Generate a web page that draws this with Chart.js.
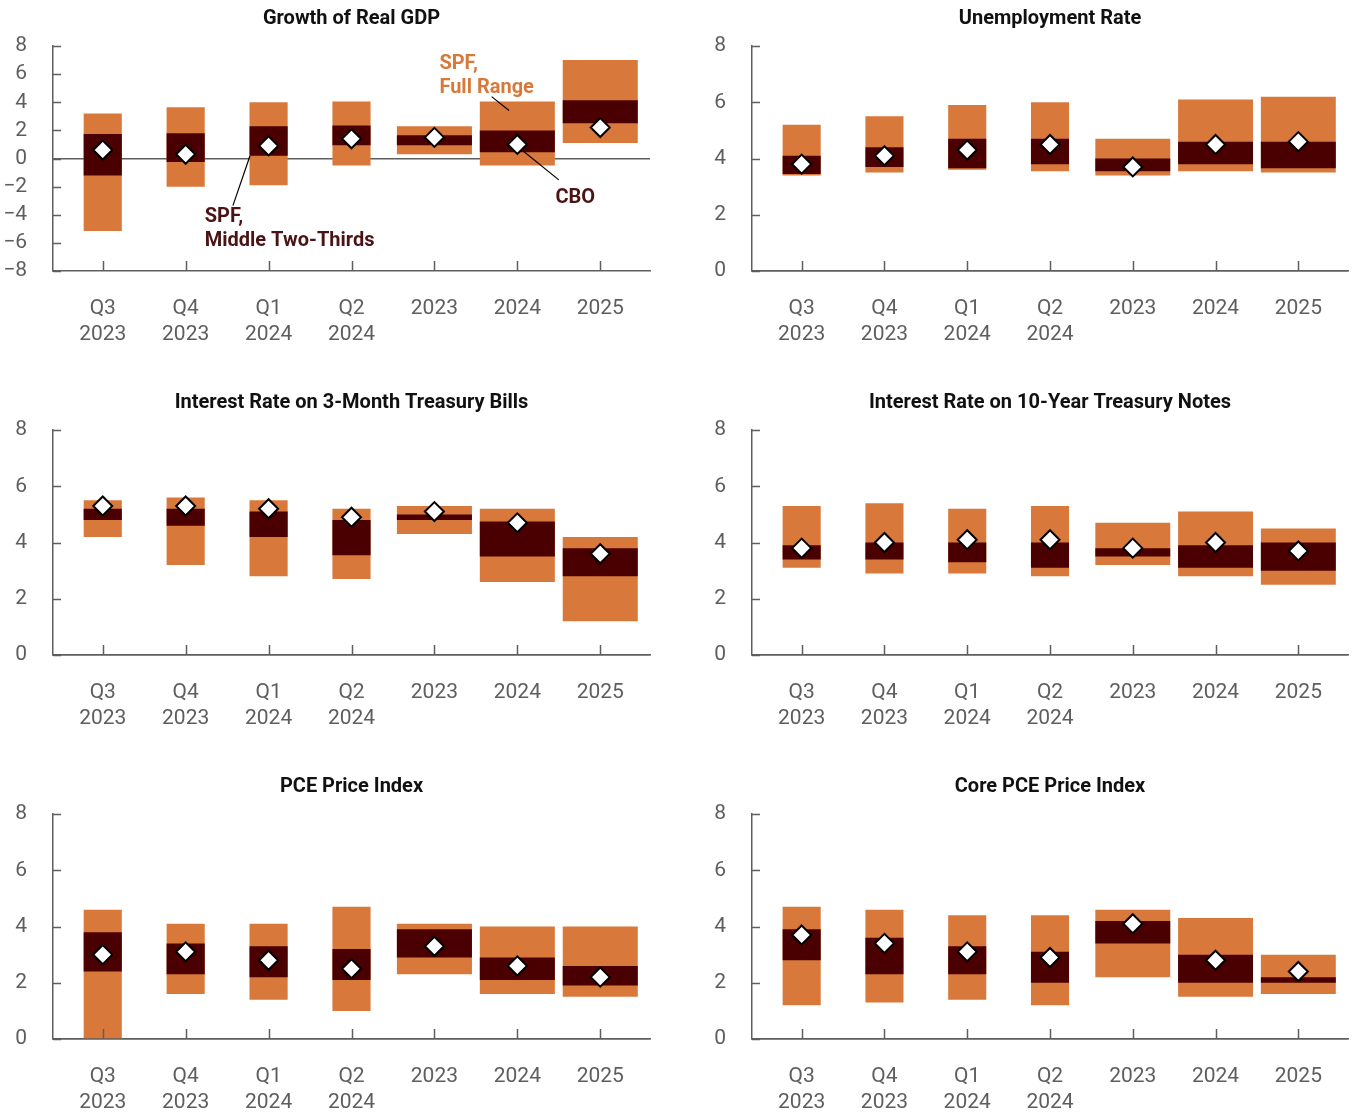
<!DOCTYPE html>
<html>
<head>
<meta charset="utf-8">
<script src="https://cdn.jsdelivr.net/npm/chart.js@4/dist/chart.umd.min.js"></script>
<style>
  body { margin: 0; background: #fff; overflow: hidden; }
  #wrap { position: relative; width: 1352px; height: 1113px; }
  canvas { position: absolute; }
</style>
</head>
<body>
<div id="wrap"></div>
<script>
// x labels (four quarters, then three calendar years)
const xLabels = [['Q3', '2023'], ['Q4', '2023'], ['Q1', '2024'], ['Q2', '2024'], '2023', '2024', '2025'];
const quarterIdx = [0, 1, 2, 3];
const yearIdx = [4, 5, 6];

// Growth of Real GDP
const gdpFull = [[-5.15, 3.2], [-2.0, 3.65], [-1.9, 4.0], [-0.5, 4.05], [0.3, 2.3], [-0.5, 4.05], [1.1, 7.0]];
const gdpMid = [[-1.2, 1.75], [-0.25, 1.8], [0.2, 2.3], [0.95, 2.35], [0.95, 1.65], [0.45, 2.0], [2.5, 4.15]];
const gdpCbo = [0.6, 0.3, 0.9, 1.4, 1.5, 1.0, 2.2];

// Unemployment Rate
const unempFull = [[3.4, 5.2], [3.5, 5.5], [3.6, 5.9], [3.55, 6.0], [3.4, 4.7], [3.55, 6.1], [3.5, 6.2]];
const unempMid = [[3.45, 4.1], [3.7, 4.4], [3.65, 4.7], [3.8, 4.7], [3.55, 4.0], [3.8, 4.6], [3.65, 4.6]];
const unempCbo = [3.8, 4.1, 4.3, 4.5, 3.7, 4.5, 4.6];

// Interest Rate on 3-Month Treasury Bills
const billFull = [[4.2, 5.5], [3.2, 5.6], [2.8, 5.5], [2.7, 5.2], [4.3, 5.3], [2.6, 5.2], [1.2, 4.2]];
const billMid = [[4.8, 5.2], [4.6, 5.2], [4.2, 5.1], [3.55, 4.8], [4.8, 5.0], [3.5, 4.75], [2.8, 3.8]];
const billCbo = [5.3, 5.3, 5.2, 4.9, 5.1, 4.7, 3.6];

// Interest Rate on 10-Year Treasury Notes
const noteFull = [[3.1, 5.3], [2.9, 5.4], [2.9, 5.2], [2.8, 5.3], [3.2, 4.7], [2.8, 5.1], [2.5, 4.5]];
const noteMid = [[3.4, 3.9], [3.4, 4.0], [3.3, 4.0], [3.1, 4.0], [3.5, 3.8], [3.1, 3.9], [3.0, 4.0]];
const noteCbo = [3.8, 4.0, 4.1, 4.1, 3.8, 4.0, 3.7];

// PCE Price Index
const pceFull = [[0, 4.6], [1.6, 4.1], [1.4, 4.1], [1.0, 4.7], [2.3, 4.1], [1.6, 4.0], [1.5, 4.0]];
const pceMid = [[2.4, 3.8], [2.3, 3.4], [2.2, 3.3], [2.1, 3.2], [2.9, 3.9], [2.1, 2.9], [1.9, 2.6]];
const pceCbo = [3.0, 3.1, 2.8, 2.5, 3.3, 2.6, 2.2];

// Core PCE Price Index
const coreFull = [[1.2, 4.7], [1.3, 4.6], [1.4, 4.4], [1.2, 4.4], [2.2, 4.6], [1.5, 4.3], [1.6, 3.0]];
const coreMid = [[2.8, 3.9], [2.3, 3.6], [2.3, 3.3], [2.0, 3.1], [3.4, 4.2], [2.0, 3.0], [2.0, 2.2]];
const coreCbo = [3.7, 3.4, 3.1, 2.9, 4.1, 2.8, 2.4];

const ORANGE = '#d8793b';
const MAROON = '#4a0000';
const TEXT_MAROON = '#4b1414';
const GREY = '#5e5e5e';
const FONT = 'Roboto, "Open Sans", sans-serif';

const panels = [
  { title: 'Growth of Real GDP', full: gdpFull, mid: gdpMid, cbo: gdpCbo, min: -8, max: 8, col: 0, row: 0, notes: true },
  { title: 'Unemployment Rate', full: unempFull, mid: unempMid, cbo: unempCbo, min: 0, max: 8, col: 1, row: 0 },
  { title: 'Interest Rate on 3-Month Treasury Bills', full: billFull, mid: billMid, cbo: billCbo, min: 0, max: 8, col: 0, row: 1 },
  { title: 'Interest Rate on 10-Year Treasury Notes', full: noteFull, mid: noteMid, cbo: noteCbo, min: 0, max: 8, col: 1, row: 1 },
  { title: 'PCE Price Index', full: pceFull, mid: pceMid, cbo: pceCbo, min: 0, max: 8, col: 0, row: 2 },
  { title: 'Core PCE Price Index', full: coreFull, mid: coreMid, cbo: coreCbo, min: 0, max: 8, col: 1, row: 2 }
];

// annotation labels on the GDP panel, placed in data units
const gdpNotes = [
  { lines: ['SPF,', 'Full Range'], x: 4.06, y: 6.38, color: ORANGE, from: [4.69, 4.4], to: [4.9, 3.42] },
  { lines: ['CBO'], x: 5.46, y: -3.14, color: TEXT_MAROON, from: [5.07, 0.53], to: [5.5, -1.52] },
  { lines: ['SPF,', 'Middle Two-Thirds'], x: 1.23, y: -4.55, color: TEXT_MAROON, from: [1.57, -3.35], to: [1.775, 0.18] }
];

const pick = (arr, idx) => idx.map(i => ({ x: i, y: arr[i] }));

const innerTicks = {
  id: 'innerTicks',
  afterDatasetsDraw(chart) {
    const { ctx, chartArea, scales } = chart;
    ctx.save();
    ctx.strokeStyle = GREY;
    ctx.lineWidth = 1.5;
    scales.x.ticks.forEach(t => {
      const px = Math.round(scales.x.getPixelForValue(t.value)) + 0.5;
      ctx.beginPath();
      ctx.moveTo(px, chartArea.bottom);
      ctx.lineTo(px, chartArea.bottom - 10);
      ctx.stroke();
    });
    scales.y.ticks.forEach(t => {
      const py = Math.round(scales.y.getPixelForValue(t.value)) + 0.5;
      ctx.beginPath();
      ctx.moveTo(chartArea.left, py);
      ctx.lineTo(chartArea.left + 8, py);
      ctx.stroke();
    });
    ctx.restore();
  }
};

const notesPlugin = {
  id: 'notes',
  afterDatasetsDraw(chart, args, opts) {
    if (!opts.items) return;
    const { ctx, scales } = chart;
    ctx.save();
    opts.items.forEach(n => {
      ctx.strokeStyle = '#000';
      ctx.lineWidth = 1.2;
      ctx.beginPath();
      ctx.moveTo(scales.x.getPixelForValue(n.from[0]), scales.y.getPixelForValue(n.from[1]));
      ctx.lineTo(scales.x.getPixelForValue(n.to[0]), scales.y.getPixelForValue(n.to[1]));
      ctx.stroke();
      ctx.fillStyle = n.color;
      ctx.font = 'bold 20px ' + FONT;
      ctx.textBaseline = 'alphabetic';
      const x0 = scales.x.getPixelForValue(n.x);
      const y0 = scales.y.getPixelForValue(n.y);
      n.lines.forEach((s, i) => ctx.fillText(s, x0, y0 + i * 24));
    });
    ctx.restore();
  }
};

const wrap = document.getElementById('wrap');

panels.forEach(p => {
  const canvas = document.createElement('canvas');
  canvas.width = 676;
  canvas.height = 345;
  canvas.style.left = (p.col * 676) + 'px';
  canvas.style.top = (p.row * 384) + 'px';
  wrap.appendChild(canvas);

  const yWidth = p.col === 0 ? 53 : 76;
  const padRight = p.col === 0 ? 26 : 4;

  new Chart(canvas, {
    data: {
      datasets: [
        { type: 'scatter', data: pick(p.cbo, [0, 1, 2, 3, 4, 5, 6]), order: 0,
          pointStyle: 'rectRot', pointRadius: 9.5, pointHoverRadius: 9.5,
          backgroundColor: '#fff', borderColor: '#000', borderWidth: 2 },
        { type: 'bar', data: pick(p.mid, quarterIdx), order: 1, backgroundColor: MAROON,
          grouped: false, categoryPercentage: 1, barPercentage: 0.46 },
        { type: 'bar', data: pick(p.mid, yearIdx), order: 1, backgroundColor: MAROON,
          grouped: false, categoryPercentage: 1, barPercentage: 0.905 },
        { type: 'bar', data: pick(p.full, quarterIdx), order: 2, backgroundColor: ORANGE,
          grouped: false, categoryPercentage: 1, barPercentage: 0.46 },
        { type: 'bar', data: pick(p.full, yearIdx), order: 2, backgroundColor: ORANGE,
          grouped: false, categoryPercentage: 1, barPercentage: 0.905 }
      ]
    },
    options: {
      responsive: false,
      animation: false,
      layout: { autoPadding: false, padding: { left: 0, right: padRight, top: 0, bottom: 0 } },
      plugins: {
        legend: { display: false },
        tooltip: { enabled: false },
        title: {
          display: true,
          text: p.title,
          fullSize: false,
          color: '#111',
          font: { family: FONT, size: 20, weight: 'bold', lineHeight: 1.2 },
          padding: { top: 7, bottom: 15 }
        },
        notes: { items: p.notes ? gdpNotes : null }
      },
      scales: {
        x: {
          type: 'linear',
          offset: false,
          min: -0.6,
          max: 6.6,
          afterBuildTicks: s => { s.ticks = xLabels.map((_, i) => ({ value: i })); },
          afterFit: s => { s.height = 74; },
          grid: { drawOnChartArea: false, drawTicks: false, offset: false },
          border: { color: GREY, width: 1.5 },
          ticks: {
            autoSkip: false,
            maxRotation: 0,
            padding: 25,
            color: GREY,
            font: { family: FONT, size: 21, lineHeight: 1.24 },
            callback: v => xLabels[v]
          }
        },
        y: {
          min: p.min,
          max: p.max,
          afterFit: s => { s.width = yWidth; },
          grid: {
            drawTicks: false,
            lineWidth: 1.5,
            color: c => (c.tick && c.tick.value === 0 ? GREY : 'rgba(0,0,0,0)')
          },
          border: { color: GREY, width: 1.5 },
          ticks: {
            stepSize: 2,
            autoSkip: false,
            padding: 26,
            color: GREY,
            font: { family: FONT, size: 21 },
            callback: v => String(v).replace('-', '\u2212')
          }
        }
      }
    },
    plugins: [innerTicks, notesPlugin]
  });
});
</script>
</body>
</html>
